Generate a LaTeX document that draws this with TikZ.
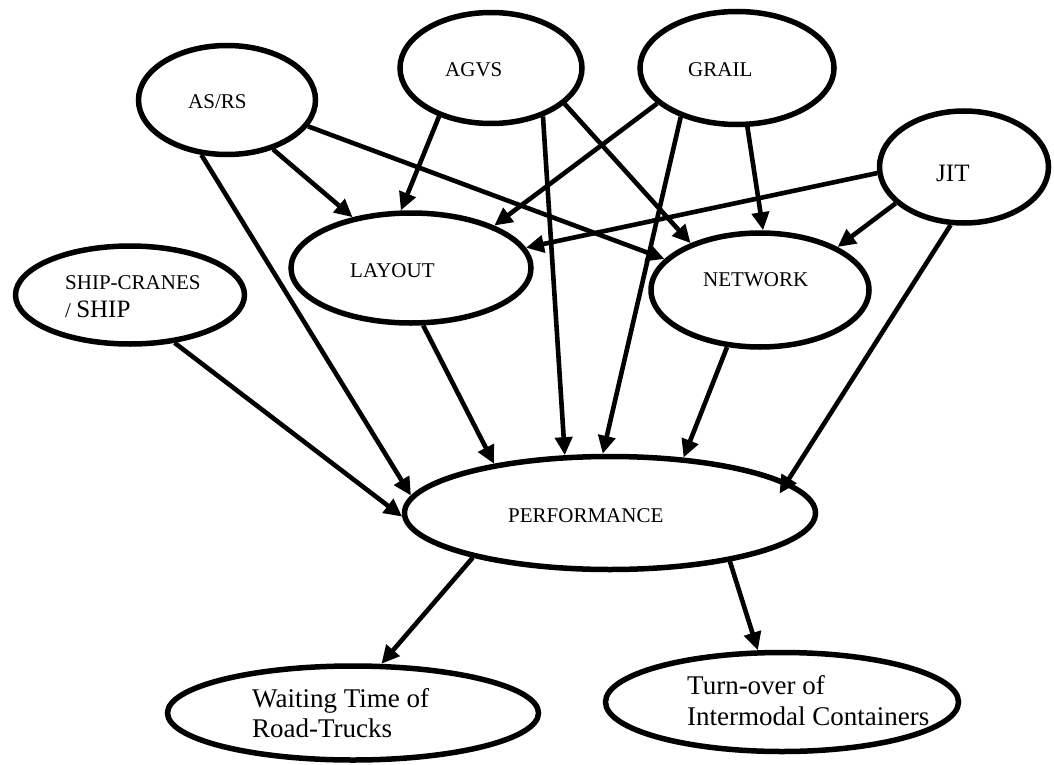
\documentclass[tikz,border=0pt]{standalone}
\usepackage{fontspec}
\setmainfont{Liberation Serif}
\usetikzlibrary{arrows.meta,shapes.geometric}
\begin{document}
\begin{tikzpicture}[x=1pt,y=-1pt,
  ell/.style={ellipse, draw, line width=5.5pt, inner sep=0pt},
  lbl/.style={anchor=base west, inner sep=0pt, font=\fontsize{21}{24}\selectfont},
  big/.style={anchor=base west, inner sep=0pt, font=\fontsize{27}{30}\selectfont},
  arr/.style={line width=4.6pt, -{Triangle[length=18pt,width=17pt]}}]
\useasboundingbox (0,0) rectangle (1054,765);
% ellipses
\node[ell, minimum width=177pt, minimum height=109pt] (asrs) at (227,100) {};
\node[ell, minimum width=182pt, minimum height=111pt] (agvs) at (491,68) {};
\node[ell, minimum width=194pt, minimum height=113pt] (grail) at (737,68) {};
\node[ell, minimum width=169pt, minimum height=112pt] (jit) at (964,167) {};
\node[ell, minimum width=240pt, minimum height=110pt] (layout) at (411,268) {};
\node[ell, minimum width=218pt, minimum height=114pt] (network) at (760,290) {};
\node[ell, minimum width=229pt, minimum height=98pt] (ship) at (130,295) {};
\node[ell, minimum width=411pt, minimum height=113pt] (perf) at (610,513) {};
\node[ell, minimum width=371pt, minimum height=94pt] (wait) at (353,713) {};
\node[ell, minimum width=353pt, minimum height=99pt] (turn) at (782,702) {};
% labels
\node[lbl] (asrsT) at (188,109) {AS/RS};
\node[lbl] (agvsT) at (445,77) {AGVS};
\node[lbl] (grailT) at (688,77) {GRAIL};
\node[anchor=base west, inner sep=0pt, font=\fontsize{25}{28}\selectfont] (jitT) at (936,181) {JIT};
\node[lbl] (layoutT) at (350,277) {LAYOUT};
\node[lbl] (networkT) at (703,286) {NETWORK};
\node[lbl] (perfT) at (508,522) {PERFORMANCE};
\node[lbl] (shipT1) at (65,289) {SHIP-CRANES};
\node[lbl] (shipT2) at (65,317) {/ {\fontsize{25}{28}\selectfont SHIP}};
\node[big] (waitT1) at (252,707) {Waiting Time of};
\node[big] (waitT2) at (252,737) {Road-Trucks};
\node[big] (turnT1) at (687,694) {Turn-over of};
\node[big] (turnT2) at (687,725) {Intermodal Containers};
% connectors
\draw[arr] (asrs.-47) -- (layout.139);
\draw[arr] (asrs.-18) -- (network.162);
\draw[arr] (asrs.-115) -- (perf.175);
\draw[arr] (agvs.-137) -- (layout.100);
\draw[arr] (agvs.-26) -- (network.146);
\draw[arr] (agvs.-43) -- (perf.128);
\draw[arr] (grail.-156) -- (layout.27);
\draw[arr] (grail.-139) -- (perf.97);
\draw[arr] (grail.-80) -- (network.87);
\draw[arr] (jit.-176) -- (layout.10);
\draw[arr] (jit.-152) -- (network.29);
\draw[arr, shorten >=-14pt] (jit.-103) -- (perf.10);
\draw[arr] (ship.-47) -- (perf.-179);
\draw[arr] (layout.-78) -- (perf.157);
\draw[arr] (network.-120) -- (perf.37);
\draw[arr] (perf.-162) -- (wait.60);
\draw[arr] (perf.-22) -- (turn.115);
\end{tikzpicture}
\end{document}
